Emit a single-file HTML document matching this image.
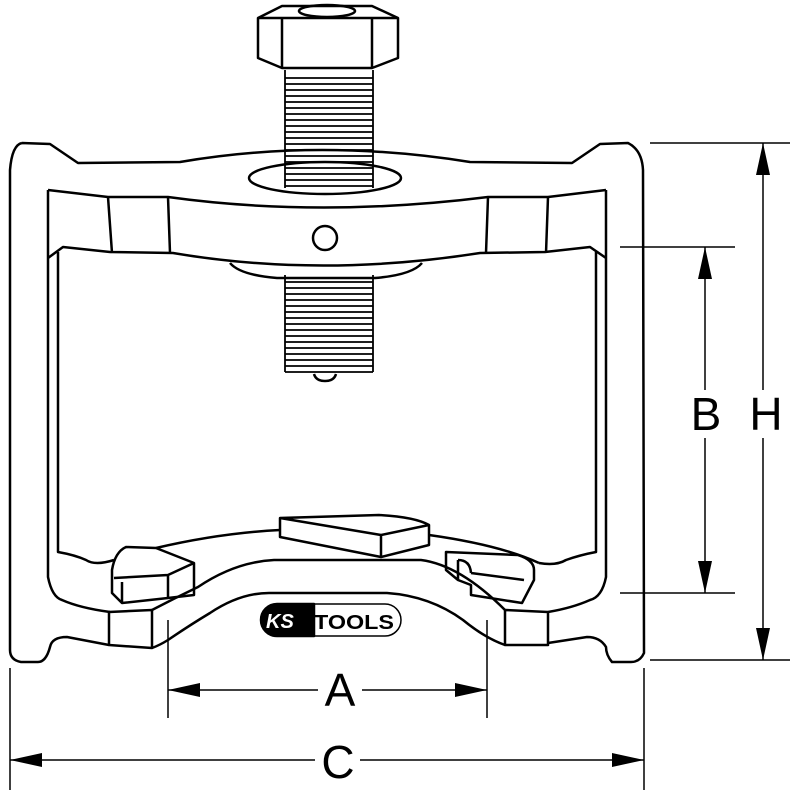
<!DOCTYPE html>
<html><head><style>body{margin:0;background:#fff}svg{display:block}</style></head><body>
<svg width="800" height="800" viewBox="0 0 800 800" xmlns="http://www.w3.org/2000/svg" fill="none" stroke="#000" stroke-width="2.5" stroke-linejoin="round">
<!-- outer frame -->
<path d="M22,143 L50,144 L78,163 L180,162 Q320,138 470,162 L572,163 L600,144 L628,143 Q642,150 643,170 L644,653 Q640,662 631,662 L612,662 Q606,655 606,647 Q600,637 587,637 L548,643 M109,645 L67,637 Q52,637 50,647 Q46,662 38,662 L21,662 Q10,660 10,650 L10,170 Q12,145 22,143"/>
<!-- inner frame -->
<path d="M48,190 L48,577 Q52,597 62,600 Q80,608 110,612"/>
<path d="M606,190 L606,577 Q602,597 590,600 Q572,608 548,612"/>
<path d="M48,190 L108,197 L168,197 Q320,218 488,197 L548,197 L606,190"/>
<path d="M58,252 L58,552 Q75,555 86,560 Q95,566 114,560"/>
<path d="M596,252 L596,552 Q580,555 566,560 Q556,566 539,563"/>
<path d="M48,258 L63,247 L110,252 L173,253 Q320,278 480,253 L545,252 L590,247 L606,258"/>
<path d="M108,197 L112,253 M168,197 L170,253 M488,197 L486,253 M548,197 L546,253"/>
<!-- washer -->
<ellipse cx="325" cy="178" rx="76" ry="16"/>
<path d="M230,263 Q240,275 277,278 L375,278 Q412,275 422,263"/>
<circle cx="325" cy="238" r="12"/>
<!-- hex head -->
<path d="M258,18 L282,6 L372,6 L398,18 L398,58 L372,68 L282,68 L258,58 Z"/>
<path d="M282,18 L282,68 M372,18 L372,68 M258,18 L398,18"/>
<ellipse cx="327" cy="11" rx="28" ry="6"/>
<!-- threads -->
<g stroke-width="1.8">
<path d="M285,70 L285,188 M373,70 L373,188 M285,275 L285,372 M373,275 L373,372"/>
<path d="M285,78 H373 M285,84 H373 M285,90 H373 M285,96 H373 M285,102 H373 M285,108 H373 M285,114 H373 M285,120 H373 M285,126 H373 M285,132 H373 M285,138 H373 M285,144 H373 M285,150 H373 M285,156 H373 M285,162 H373 M285,168 H373 M285,174 H373 M285,180 H373 M285,186 H373"/>
<path d="M285,282 H373 M285,288 H373 M285,294 H373 M285,300 H373 M285,306 H373 M285,312 H373 M285,318 H373 M285,324 H373 M285,330 H373 M285,336 H373 M285,342 H373 M285,348 H373 M285,354 H373 M285,360 H373 M285,366 H373 M285,372 H373"/>
</g>
<path d="M314,374 Q316,381 325,381 Q334,381 336,374"/>
<!-- lower crossbar -->
<path d="M156,548 Q220,533 280,530 M429,535 Q500,545 539,563"/>
<path d="M152,610 Q175,598 198,587 Q235,562 274,560 L421,560 Q460,565 505,610"/>
<path d="M152,648 Q160,645 168,640 Q190,625 210,613 Q240,593 269,593 L387,593 Q430,596 463,620 Q485,638 505,645"/>
<path d="M109,612 L109,645 L152,648 L152,610 Z M548,612 L548,645 L505,645 L505,610 Z"/>
<!-- left block -->
<path d="M112,570 Q115,552 126,547 L156,548 L194,563 L194,595 L168,598 L122,603 L112,593 Z M114,578 L168,575 L194,563 M168,575 L168,598 M122,582 L122,603"/>
<!-- center block -->
<path d="M280,518 L379,515 Q415,517 429,525 L429,545 L381,557 L280,537 Z M280,518 L381,535 L429,525 M381,535 L381,557"/>
<!-- right block -->
<path d="M446,552 L518,555 Q534,560 534,570 L534,580 L522,603 L471,595 L471,585 L458,580 L446,570 Z M471,573 L524,580 M458,560 Q470,560 471,573 M458,560 L458,580"/>
<!-- logo -->
<rect x="261" y="604" width="140" height="32" rx="16" stroke-width="1.5"/>
<path d="M277,604 L314,604 L314,636 L277,636 A16,16 0 0 1 277,604 Z" fill="#000"/>
<text x="266" y="628" font-family="Liberation Sans, sans-serif" font-weight="bold" font-style="italic" font-size="20" fill="#fff" stroke="none">KS</text>
<text x="314" y="629" font-family="Liberation Sans, sans-serif" font-weight="bold" font-size="20" fill="#000" stroke="none" textLength="80" lengthAdjust="spacingAndGlyphs">TOOLS</text>
<!-- dimensions -->
<g stroke-width="1.5">
<path d="M168,620 V718 M487,620 V718 M10,668 V790 M644,668 V790 M650,143 H790 M650,660 H790 M620,247 H735 M620,593 H735"/>
<path d="M168,690 H318 M362,690 H487 M10,760 H315 M360,760 H644 M763,143 V390 M763,438 V660 M705,247 V390 M705,438 V593"/>
</g>
<g fill="#000" stroke="none">
<path d="M168,690 L200,683 L200,697 Z M487,690 L455,683 L455,697 Z"/>
<path d="M10,760 L42,753 L42,767 Z M644,760 L612,753 L612,767 Z"/>
<path d="M763,143 L756,175 L770,175 Z M763,660 L756,628 L770,628 Z"/>
<path d="M705,247 L698,279 L712,279 Z M705,593 L698,561 L712,561 Z"/>
</g>
<g font-family="Liberation Sans, sans-serif" font-size="46" fill="#000" stroke="none" text-anchor="middle">
<text x="340" y="706">A</text>
<text x="338" y="778">C</text>
<text x="706" y="430">B</text>
<text x="766" y="430">H</text>
</g>
</svg>
</body></html>
